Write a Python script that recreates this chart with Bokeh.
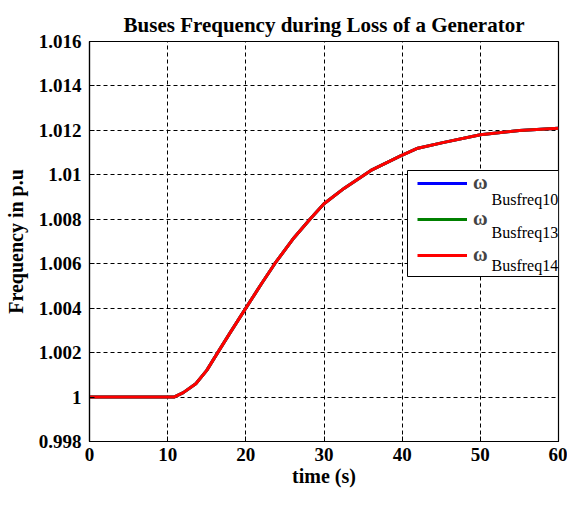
from bokeh.plotting import figure
from bokeh.models import (Range1d, FixedTicker, CustomJSTickFormatter, Legend,
                          LegendItem, Label, BoxAnnotation)
from bokeh.embed import file_html
from bokeh.resources import INLINE

# ---- data ----
time_s = [0, 5, 10, 10.8, 12, 13.6, 15, 16.4, 18, 20, 22, 23.7, 26, 28.2,
          30, 32.6, 36, 39.8, 42, 45.2, 50, 55, 60]
freq_bus14 = [1.0, 1.0, 1.0, 1.0, 1.0002, 1.0006, 1.0012, 1.002, 1.0029,
              1.004, 1.0051, 1.006, 1.0071, 1.008, 1.0087, 1.0094, 1.0102,
              1.01085, 1.0112, 1.01145, 1.0118, 1.012, 1.0121]
freq_bus10 = list(freq_bus14)
freq_bus13 = list(freq_bus14)
series_names = ["Busfreq10", "Busfreq13", "Busfreq14"]
series_colors = ["#0000ff", "#008000", "#ff0000"]
x_ticks = [0, 10, 20, 30, 40, 50, 60]
y_ticks = [0.998, 1.0, 1.002, 1.004, 1.006, 1.008, 1.01, 1.012, 1.014, 1.016]

X0, X1 = 0, 60
Y0, Y1 = 0.998, 1.016
SERIF = "Liberation Serif"

W, H = 567, 489
BL, BR, BT, BB = 89, 9, 41, 48
FW, FH = W - BL - BR, H - BT - BB


def px_to_x(px):
    return X0 + px / FW * (X1 - X0)


def px_to_y(py):  # py measured down from the frame top
    return Y1 - py / FH * (Y1 - Y0)


p = figure(width=W, height=H, output_backend="svg", toolbar_location=None,
           x_range=Range1d(X0, X1), y_range=Range1d(Y0, Y1),
           min_border_left=BL, min_border_right=BR, min_border_top=BT,
           min_border_bottom=BB)

p.title.text = "Buses Frequency during Loss of a Generator"
p.title.align = "center"
p.title.text_font = SERIF
p.title.text_font_size = "21px"
p.title.text_font_style = "bold"
p.title.text_color = "black"
p.title.offset = 0
p.title.standoff = 10

p.outline_line_color = "black"
p.outline_line_width = 1.2
p.outline_line_alpha = 1

for ax in (p.xaxis[0], p.yaxis[0]):
    ax.axis_line_color = "black"
    ax.axis_line_width = 1.2
    ax.major_tick_in = 5
    ax.major_tick_out = 0
    ax.minor_tick_line_color = None
    ax.major_tick_line_color = "black"
    ax.major_label_text_font = SERIF
    ax.major_label_text_font_style = "bold"
    ax.major_label_text_font_size = "19px"
    ax.major_label_text_color = "black"
    ax.axis_label_text_font = SERIF
    ax.axis_label_text_font_style = "bold"
    ax.axis_label_text_color = "black"

p.xaxis.ticker = FixedTicker(ticks=x_ticks)
p.yaxis.ticker = FixedTicker(ticks=y_ticks)
p.yaxis.formatter = CustomJSTickFormatter(code="""
    return tick.toFixed(3).replace(/0+$/, '').replace(/\\.$/, '');
""")
p.xaxis.axis_label = "time (s)"
p.xaxis.axis_label_text_font_size = "20px"
p.xaxis.axis_label_standoff = 1
p.xaxis.major_label_standoff = 6
p.yaxis.axis_label = "Frequency in p.u"
p.yaxis.axis_label_text_font_size = "20px"
p.yaxis.axis_label_standoff = 9
p.yaxis.major_label_standoff = 8

p.grid.grid_line_color = "black"
p.grid.grid_line_dash = "4 3"
p.grid.grid_line_width = 1
p.grid.grid_line_alpha = 1

# legend box position, measured from the frame (pixels)
LEG_LEFT, LEG_TOP, LEG_H = 318, 129, 106

# white legend panel (drawn beneath the legend entries)
p.add_layout(BoxAnnotation(left=px_to_x(LEG_LEFT), right=X1,
                           top=px_to_y(LEG_TOP), bottom=px_to_y(LEG_TOP + LEG_H),
                           fill_color="white", fill_alpha=1,
                           line_color="black", line_width=1, line_alpha=1,
                           level="underlay"))

renderers = []
for ys, c in zip([freq_bus10, freq_bus13, freq_bus14], series_colors):
    r = p.line(time_s, ys, line_color=c, line_width=3)
    renderers.append(r)

legend = Legend(items=[LegendItem(label="ω", renderers=[r]) for r in renderers],
                location=(LEG_LEFT, FH - LEG_TOP - LEG_H))
legend.border_line_color = "black"
legend.border_line_alpha = 0
legend.background_fill_alpha = 0
legend.padding = 10
legend.spacing = 13
legend.glyph_width = 50
legend.glyph_height = 20
legend.label_height = 20
legend.label_width = 75
legend.label_standoff = 6
legend.label_text_font = SERIF
legend.label_text_font_size = "20px"
legend.label_text_font_style = "bold"
legend.label_text_baseline = "bottom"
legend.margin = 0
p.add_layout(legend, "center")

# subscripts for the legend labels
sub_px_x = 402.0
sub_px_y0 = LEG_TOP + 29.0
item_step = 33.0
for i, name in enumerate(series_names):
    p.add_layout(Label(x=px_to_x(sub_px_x),
                       y=px_to_y(sub_px_y0 + i * item_step),
                       text=name, text_font=SERIF,
                       text_font_size="16px", text_baseline="middle",
                       text_color="black"))

open("out.html", "w").write(file_html(p, INLINE))
